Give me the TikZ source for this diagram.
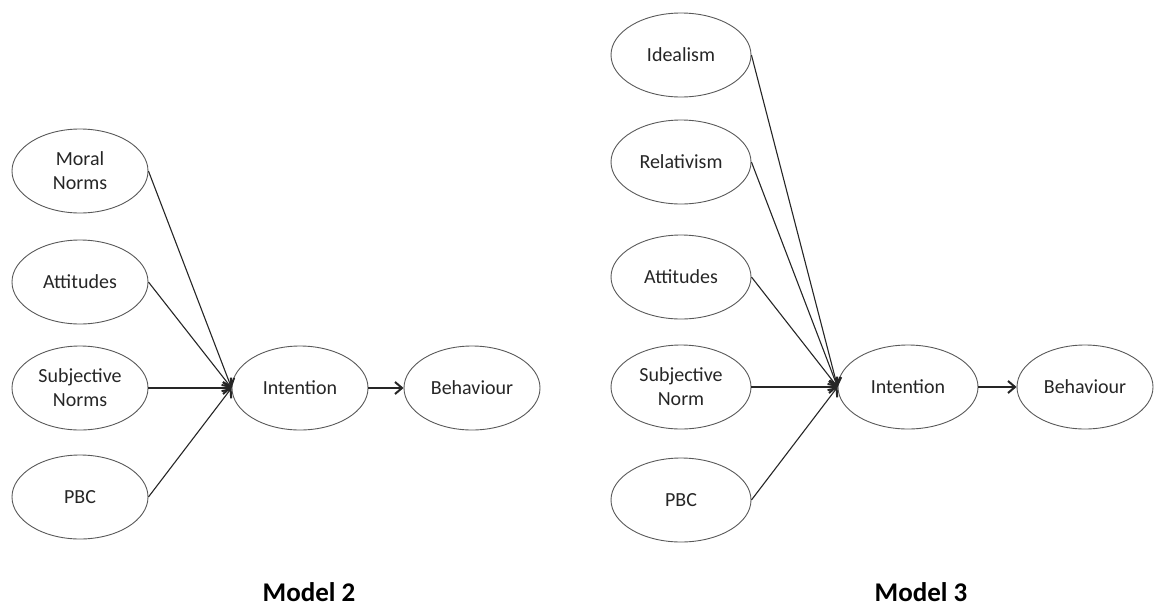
\documentclass[tikz,border=0pt]{standalone}
\usepackage{fontspec}
\setmainfont{Carlito}
\usetikzlibrary{arrows.meta,shapes.geometric}
\begin{document}
\begin{tikzpicture}[x=1pt,y=-1pt,
  construct/.style={ellipse,draw=black!65,line width=0.9pt,minimum width=136pt,
    minimum height=84pt,inner sep=0pt,align=center,font=\fontsize{20}{24}\selectfont,text=black!85},
  path/.style={draw=black!85,line width=1.1pt,-{Straight Barb[length=7pt,width=12pt,line width=2pt]}},
  caption/.style={font=\bfseries\fontsize{27}{32}\selectfont,inner sep=0pt}]
\useasboundingbox (0,0) rectangle (1162,608);

% Model 2
\node[construct] (mn2)  at (80,171) {Moral\\Norms};
\node[construct] (at2)  at (80,282) {Attitudes};
\node[construct] (sn2)  at (80,388) {Subjective\\Norms};
\node[construct] (pbc2) at (80,497) {PBC};
\node[construct] (in2)  at (300,388) {Intention};
\node[construct] (be2)  at (472,388) {Behaviour};
\foreach \s in {mn2,at2,sn2,pbc2}
  \draw[path] (\s.east) -- (in2.west);
\draw[path] (in2.east) -- (be2.west);
\node[caption] (m2) at (309,592) {Model 2};

% Model 3
\node[construct,minimum width=140pt] (id3)  at (681,55)  {Idealism};
\node[construct,minimum width=140pt] (re3)  at (681,162) {Relativism};
\node[construct,minimum width=140pt] (at3)  at (681,277) {Attitudes};
\node[construct,minimum width=140pt] (sn3)  at (681,387) {Subjective\\Norm};
\node[construct,minimum width=140pt] (pbc3) at (681,500) {PBC};
\node[construct,minimum width=140pt] (in3)  at (908,387) {Intention};
\node[construct] (be3)  at (1085,387) {Behaviour};
\foreach \s in {id3,re3,at3,sn3,pbc3}
  \draw[path] (\s.east) -- (in3.west);
\draw[path] (in3.east) -- (be3.west);
\node[caption] (m3) at (921,592) {Model 3};
\end{tikzpicture}
\end{document}
